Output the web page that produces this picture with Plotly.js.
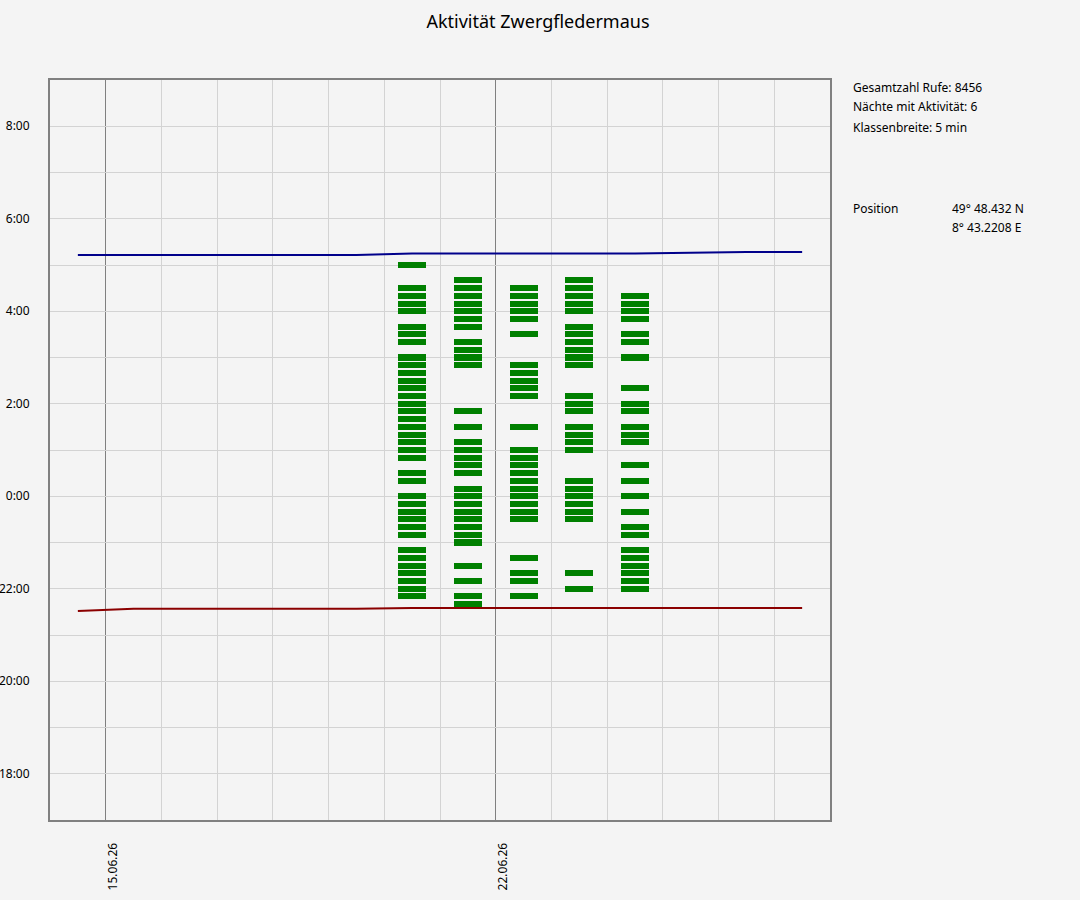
<!DOCTYPE html>
<html>
<head>
<meta charset="utf-8">
<script src="https://cdn.plot.ly/plotly-3.0.1.min.js"></script>
<style>
  body { margin: 0; background: #f4f4f4; }
  #chart { width: 1080px; height: 900px; }
</style>
</head>
<body>
<div id="chart"></div>
<script>
// days shown on the x axis (one sunrise / sunset value per day)
const days = ['2026-06-14', '2026-06-15', '2026-06-16', '2026-06-17', '2026-06-18', '2026-06-19', '2026-06-20',
              '2026-06-21', '2026-06-22', '2026-06-23', '2026-06-24', '2026-06-25', '2026-06-26', '2026-06-27'];
const sunset  = ['21:31', '21:34', '21:34', '21:34', '21:34', '21:34', '21:35',
                 '21:35', '21:35', '21:35', '21:35', '21:35', '21:35', '21:35'];
const sunrise = ['5:13', '5:13', '5:13', '5:13', '5:13', '5:13', '5:15',
                 '5:15', '5:15', '5:15', '5:15', '5:16', '5:17', '5:17'];

// nights with activity and the classes that had calls
const nights = ['2026-06-20', '2026-06-21', '2026-06-22', '2026-06-23', '2026-06-24'];
const night20 = ['5:00', '4:30', '4:20', '4:10', '4:00', '3:40', '3:30', '3:20', '3:00', '2:50', '2:40', '2:30', '2:20',
                 '2:10', '2:00', '1:50', '1:40', '1:30', '1:20', '1:10', '1:00', '0:50', '0:30', '0:20', '0:00',
                 '23:50', '23:40', '23:30', '23:20', '23:10', '22:50', '22:40', '22:30', '22:20', '22:10', '22:00', '21:50'];
const night21 = ['4:40', '4:30', '4:20', '4:10', '4:00', '3:50', '3:40', '3:20', '3:10', '3:00', '2:50', '1:50', '1:30',
                 '1:10', '1:00', '0:50', '0:40', '0:30', '0:10', '0:00', '23:50', '23:40', '23:30', '23:20', '23:10',
                 '23:00', '22:30', '22:10', '21:50', '21:40'];
const night22 = ['4:30', '4:20', '4:10', '4:00', '3:50', '3:30', '2:50', '2:40', '2:30', '2:20', '2:10', '1:30',
                 '1:00', '0:50', '0:40', '0:30', '0:20', '0:10', '0:00', '23:50', '23:40', '23:30', '22:40', '22:20',
                 '22:10', '21:50'];
const night23 = ['4:40', '4:30', '4:20', '4:10', '4:00', '3:40', '3:30', '3:20', '3:10', '3:00', '2:50', '2:10', '2:00',
                 '1:50', '1:30', '1:20', '1:10', '1:00', '0:20', '0:10', '0:00', '23:50', '23:40', '23:30', '22:20', '22:00'];
const night24 = ['4:20', '4:10', '4:00', '3:50', '3:30', '3:20', '3:00', '2:20', '2:00', '1:50', '1:30', '1:20', '1:10',
                 '0:40', '0:20', '0:00', '23:40', '23:20', '23:10', '22:50', '22:40', '22:30', '22:20', '22:10', '22:00'];
const nightSlots = [night20, night21, night22, night23, night24];

const hourVals = [-6, -5, -4, -3, -2, -1, 0, 1, 2, 3, 4, 5, 6, 7, 8];
const hourLabels = ['18:00', '', '20:00', '', '22:00', '', '0:00', '', '2:00', '', '4:00', '', '6:00', '', '8:00'];

const infoLines = ['Gesamtzahl Rufe: 8456', 'Nächte mit Aktivität: 6', 'Klassenbreite: 5 min'];
const posLabel = 'Position';
const posValues = ['49° 48.432 N', '8° 43.2208 E'];

// "HH:MM" -> hours relative to midnight (evening hours negative)
function toHours(s) {
    const p = s.split(':');
    let h = parseInt(p[0]) + parseInt(p[1]) / 60;
    if (h >= 12) h -= 24;
    return h;
}
function noon(d) { return d + ' 12:00'; }

const DAY = 86400000;
const slotH = 7.8 / 60;   // drawn height of one class

const barX = [], barBase = [], barLen = [];
nights.forEach((n, i) => {
    nightSlots[i].forEach(t => {
        barX.push(noon(n));
        barBase.push(toHours(t) - slotH / 2);
        barLen.push(slotH);
    });
});

const traces = [
    { type: 'bar', x: barX, y: barLen, base: barBase, width: DAY * 0.5,
      marker: { color: '#008000', line: { width: 0 } }, hoverinfo: 'skip' },
    { type: 'scatter', mode: 'lines', x: days.map(noon), y: sunrise.map(toHours),
      line: { color: '#00008b', width: 2 }, hoverinfo: 'skip' },
    { type: 'scatter', mode: 'lines', x: days.map(noon), y: sunset.map(toHours),
      line: { color: '#8b0000', width: 2 }, hoverinfo: 'skip' }
];

const txt = { family: 'Noto Sans, DejaVu Sans, sans-serif', size: 12, color: '#000000' };
const annotations = [];
infoLines.forEach((s, i) => annotations.push({ text: s, xref: 'paper', yref: 'paper', x: (851 - 50) / 780, y: (820 - 87 - 20 * i) / 740,
    xanchor: 'left', yanchor: 'middle', showarrow: false, font: txt }));
annotations.push({ text: posLabel, xref: 'paper', yref: 'paper', x: (851 - 50) / 780, y: (820 - 208) / 740,
    xanchor: 'left', yanchor: 'middle', showarrow: false, font: txt });
posValues.forEach((s, i) => annotations.push({ text: s, xref: 'paper', yref: 'paper', x: (950 - 50) / 780, y: (820 - 208 - 20 * i) / 740,
    xanchor: 'left', yanchor: 'middle', showarrow: false, font: txt }));

const layout = {
    width: 1080, height: 900,
    margin: { l: 50, r: 250, t: 80, b: 80 },
    paper_bgcolor: '#f4f4f4', plot_bgcolor: '#f4f4f4',
    showlegend: false,
    font: txt,
    title: { text: 'Aktivität Zwergfledermaus', xref: 'container', x: 538 / 1080, xanchor: 'center',
             yref: 'container', y: 1 - 22 / 900, yanchor: 'middle',
             font: { family: 'Noto Sans, DejaVu Sans, sans-serif', size: 18, color: '#000000' } },
    xaxis: {
        type: 'date', range: ['2026-06-14', '2026-06-28'],
        tickmode: 'linear', tick0: '2026-06-15', dtick: 7 * DAY, tickformat: '%d.%m.%y', tickangle: -90,
        ticks: '', ticklabelstandoff: 16, ticklabelshift: 7,
        showgrid: true, gridcolor: '#808080', gridwidth: 1,
        minor: { tick0: '2026-06-14', dtick: DAY, showgrid: true, gridcolor: '#d3d3d3', gridwidth: 1, ticks: '' },
        showline: true, linecolor: '#808080', linewidth: 2, mirror: true, zeroline: false,
        fixedrange: true
    },
    yaxis: {
        range: [-7, 9], tickmode: 'array', tickvals: hourVals, ticktext: hourLabels,
        ticks: '', ticklabelstandoff: 16,
        showgrid: true, gridcolor: '#d3d3d3', gridwidth: 1,
        showline: true, linecolor: '#808080', linewidth: 2, mirror: true, zeroline: false,
        fixedrange: true
    },
    bargap: 0,
    annotations: annotations
};

Plotly.newPlot('chart', traces, layout, { displayModeBar: false, staticPlot: true });
</script>
</body>
</html>
